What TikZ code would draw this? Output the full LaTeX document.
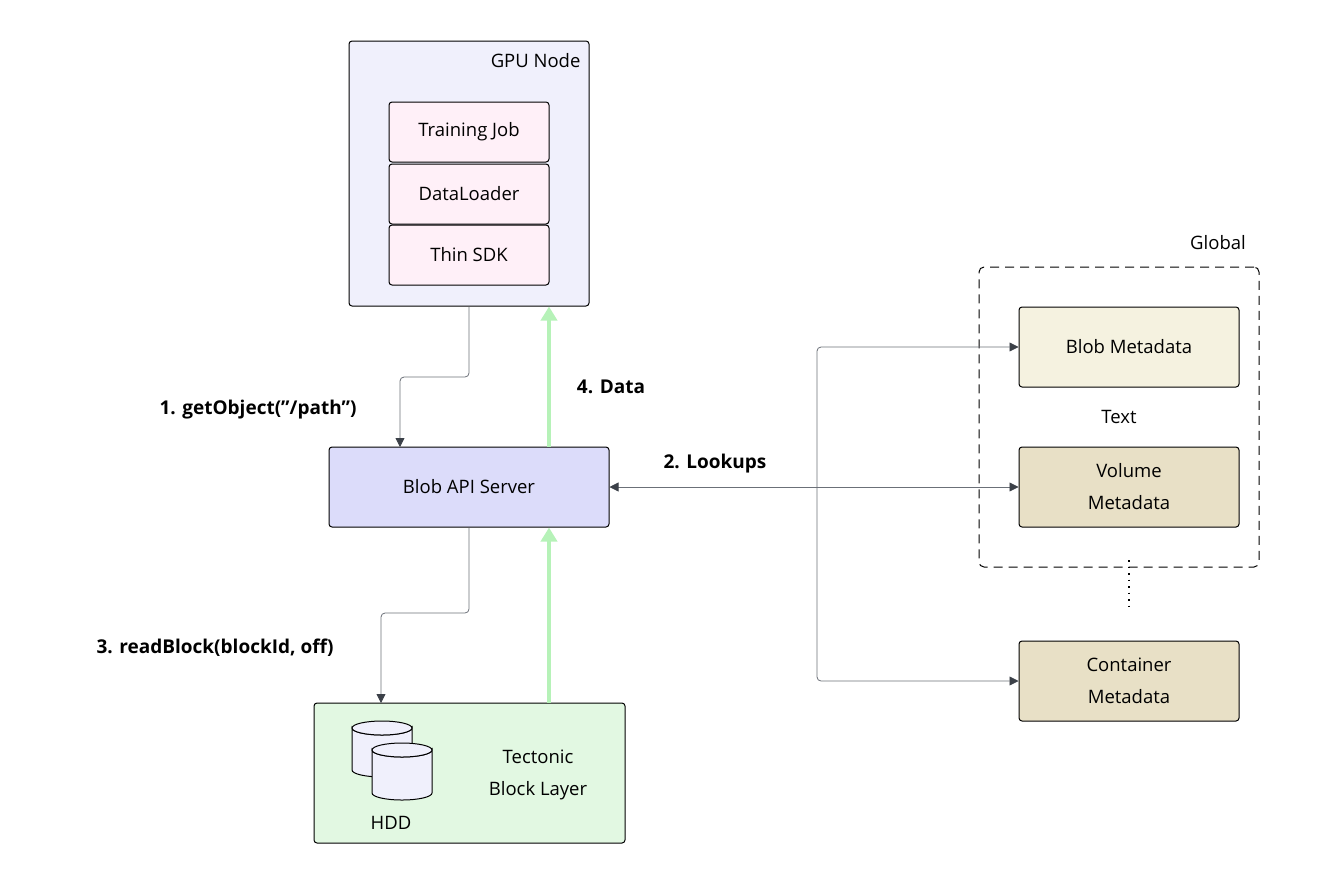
\documentclass[tikz,border=0pt]{standalone}
\usepackage{fontspec}
\setmainfont{Open Sans}
\usetikzlibrary{arrows.meta,positioning}

\definecolor{cgpu}{HTML}{F0F0FC}
\definecolor{cjob}{HTML}{FFF0F8}
\definecolor{capi}{HTML}{DCDCFA}
\definecolor{cblk}{HTML}{E2F8E2}
\definecolor{cmeta}{HTML}{F5F2E0}
\definecolor{cvol}{HTML}{E8E0C6}
\definecolor{cdata}{HTML}{B6F2B8}
\definecolor{cline}{HTML}{6B7078}
\definecolor{chead}{HTML}{3B4048}

\tikzset{
  box/.style={draw=black, line width=1pt, rounded corners=3pt, inner sep=0pt},
  flow/.style={draw=cline, line width=0.8pt, rounded corners=4pt, -{Triangle[length=9pt,width=9pt,color=chead]}},
  dataflow/.style={draw=cdata, line width=4pt, -{Triangle[length=14pt,width=16pt]}},
  lbl/.style={font=\bfseries\fontsize{19}{24}\selectfont},
  txt/.style={font=\fontsize{18.5}{32}\selectfont, align=center},
  disk/.style={draw=black, line width=1pt, fill=cgpu}
}
% cylinder: centre x, top y, bottom y
\newcommand{\hddcyl}[3]{%
  \filldraw[disk] (#1-30,#2) -- (#1-30,#3) arc[start angle=180,end angle=0,x radius=30,y radius=7] -- (#1+30,#2) arc[start angle=0,end angle=180,x radius=30,y radius=7] -- cycle;
  \draw[disk] (#1,#2) ellipse[x radius=30,y radius=7];
}

\begin{document}
\begin{tikzpicture}[x=1pt,y=-1pt]
%
\useasboundingbox (0,0) rectangle (1321,884);
%
% GPU node
\node[box, fill=cgpu, minimum width=240pt, minimum height=265pt] (gpu) at (469,173.5) {};
\node[txt, anchor=east] (gpulbl) at (584,61) {GPU Node};
\node[box, fill=cjob, minimum width=160pt, minimum height=60pt, txt] (job) at (469,132) {Training Job};
\node[box, fill=cjob, minimum width=160pt, minimum height=60pt, txt] (loader) at (469,194) {DataLoader};
\node[box, fill=cjob, minimum width=160pt, minimum height=60pt, txt] (sdk) at (469,255) {Thin SDK};
%
% API server and block layer
\node[box, fill=capi, minimum width=280pt, minimum height=80pt, txt] (api) at (469,487) {Blob API Server};
\node[box, fill=cblk, minimum width=311pt, minimum height=140pt] (block) at (469.5,773) {};
\hddcyl{382}{728}{770}
\hddcyl{402}{750}{793}
\node[txt] (hddlbl) at (391,823) {HDD};
\node[txt] (blocklbl) at (538,775) {Tectonic\\Block Layer};
%
% metadata stores
\node[box, dashed, dash pattern=on 9pt off 6pt, rounded corners=5pt, minimum width=280pt, minimum height=300pt] (global) at (1119,417) {};
\node[txt] (globallbl) at (1218,243) {Global};
\node[box, fill=cmeta, minimum width=220pt, minimum height=80pt, txt] (blobmeta) at (1129,347) {Blob Metadata};
\node[txt] (textlbl) at (1119,417) {Text};
\node[box, fill=cvol, minimum width=220pt, minimum height=80pt, txt] (volmeta) at (1129,487) {Volume\\Metadata};
\node[box, fill=cvol, minimum width=220pt, minimum height=80pt, txt] (contmeta) at (1129,681) {Container\\Metadata};
\draw[line width=1.2pt, dash pattern=on 1.5pt off 5pt] (1129,560) -- (1129,608);
%
% connectors
\coordinate (split) at (817,487);
\draw[flow] (gpu.south) -- (469,377) -| (400,447);
\node[lbl] (getlbl) at (258,410) {1. getObject("/path")};
\draw[dataflow] (api.north -| 549,0) -- (gpu.south -| 549,0);
\node[lbl] (datalbl) at (611,387) {4. Data};
\draw[flow] (api.south) -- (469,613) -| (381,703);
\node[lbl] (readlbl) at (215,648) {3. readBlock(blockId, off)};
\draw[dataflow] (block.north -| 549,0) -- (api.south -| 549,0);
\draw[flow] (split) -- (api.east);
\node[lbl] (lookuplbl) at (715,464) {2. Lookups};
\draw[flow] (split) |- (blobmeta.west);
\draw[flow] (split) -- (volmeta.west);
\draw[flow] (split) |- (contmeta.west);
%
\end{tikzpicture}
\end{document}
